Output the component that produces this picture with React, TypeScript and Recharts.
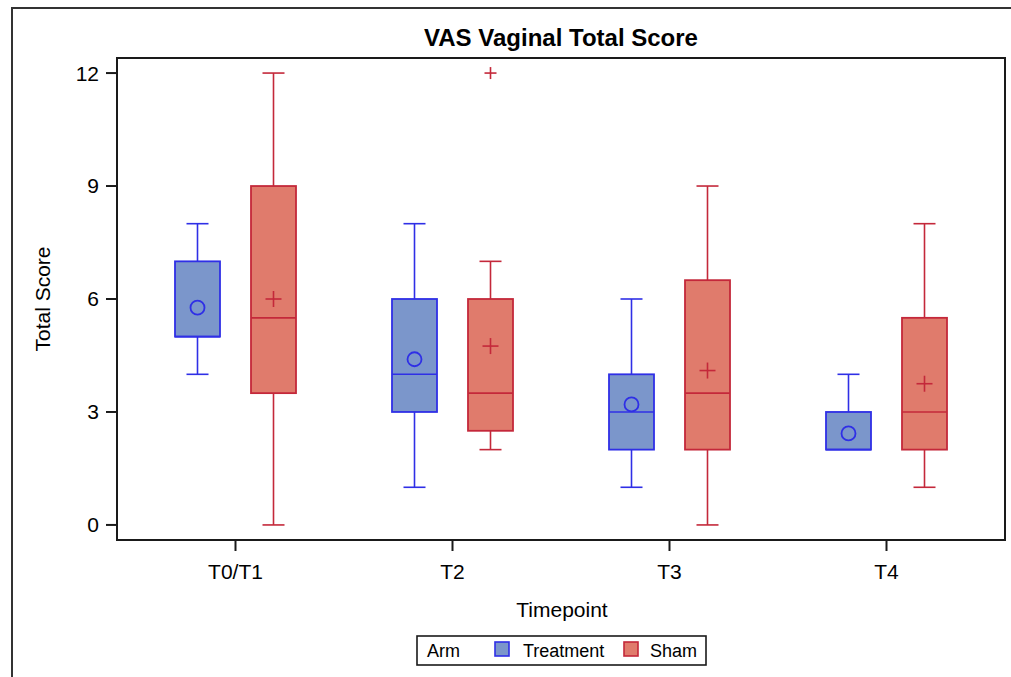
import React from "react"
import { ComposedChart, Bar, XAxis, YAxis } from "recharts"

// box plot summary per timepoint, read from the SAS output
const timepoints = ["T0/T1", "T2", "T3", "T4"]

const treatmentMin = [4, 1, 1, 2]
const treatmentQ1 = [5, 3, 2, 2]
const treatmentMedian = [5, 4, 3, 2]
const treatmentQ3 = [7, 6, 4, 3]
const treatmentMax = [8, 8, 6, 4]
const treatmentMean = [5.77, 4.4, 3.2, 2.43]
const treatmentOutliers: number[][] = [[], [], [], []]

const shamMin = [0, 2, 0, 1]
const shamQ1 = [3.5, 2.5, 2, 2]
const shamMedian = [5.5, 3.5, 3.5, 3]
const shamQ3 = [9, 6, 6.5, 5.5]
const shamMax = [12, 7, 9, 8]
const shamMean = [6, 4.75, 4.1, 3.75]
const shamOutliers: number[][] = [[], [12], [], []]

const yTicks = [0, 3, 6, 9, 12]

const FONT = "'Liberation Sans', Arial, Helvetica, sans-serif"
const AXIS = "#1a1a1a"

const colors = {
  treatment: { fill: "#7b96cb", stroke: "#2f2fe6" },
  sham: { fill: "#e07b6c", stroke: "#c4283a" },
}

type Stats = { min: number; q1: number; median: number; q3: number; max: number; mean: number; outliers: number[] }

const data = timepoints.map((t, i) => {
  const treatment: Stats = {
    min: treatmentMin[i],
    q1: treatmentQ1[i],
    median: treatmentMedian[i],
    q3: treatmentQ3[i],
    max: treatmentMax[i],
    mean: treatmentMean[i],
    outliers: treatmentOutliers[i],
  }
  const sham: Stats = {
    min: shamMin[i],
    q1: shamQ1[i],
    median: shamMedian[i],
    q3: shamQ3[i],
    max: shamMax[i],
    mean: shamMean[i],
    outliers: shamOutliers[i],
  }
  return {
    timepoint: t,
    treatment,
    sham,
    treatmentRange: [treatment.min, treatment.max],
    shamRange: [sham.min, sham.max],
  }
})

function makeBoxShape(series: "treatment" | "sham") {
  const c = colors[series]
  return (props: any) => {
    const { x, y, width, height, payload } = props
    const s: Stats = payload[series]
    const top = Math.min(y, y + height)
    const bottom = Math.max(y, y + height)
    const h = bottom - top
    // linear mapping taken from the bar's own geometry (min..max)
    const py = (v: number) => bottom - ((v - s.min) * h) / (s.max - s.min)
    const cx = x + width / 2
    const cap = 11
    const plus = (px: number, py0: number, r: number, key: string) => (
      <g key={key}>
        <line x1={px - r} x2={px + r} y1={py0} y2={py0} stroke={c.stroke} strokeWidth={1.6} />
        <line x1={px} x2={px} y1={py0 - r} y2={py0 + r} stroke={c.stroke} strokeWidth={1.6} />
      </g>
    )
    return (
      <g>
        {s.max > s.q3 && (
          <>
            <line x1={cx} x2={cx} y1={py(s.max)} y2={py(s.q3)} stroke={c.stroke} strokeWidth={1.6} />
            <line x1={cx - cap} x2={cx + cap} y1={py(s.max)} y2={py(s.max)} stroke={c.stroke} strokeWidth={1.6} />
          </>
        )}
        {s.min < s.q1 && (
          <>
            <line x1={cx} x2={cx} y1={py(s.q1)} y2={py(s.min)} stroke={c.stroke} strokeWidth={1.6} />
            <line x1={cx - cap} x2={cx + cap} y1={py(s.min)} y2={py(s.min)} stroke={c.stroke} strokeWidth={1.6} />
          </>
        )}
        <rect
          x={x}
          y={py(s.q3)}
          width={width}
          height={py(s.q1) - py(s.q3)}
          fill={c.fill}
          stroke={c.stroke}
          strokeWidth={1.8}
        />
        <line x1={x} x2={x + width} y1={py(s.median)} y2={py(s.median)} stroke={c.stroke} strokeWidth={1.6} />
        {series === "treatment" ? (
          <circle cx={cx} cy={py(s.mean)} r={7} fill="none" stroke={c.stroke} strokeWidth={1.8} />
        ) : (
          plus(cx, py(s.mean), 8, "mean")
        )}
        {s.outliers.map((o, k) => plus(cx, py(o), 6, "o" + k))}
      </g>
    )
  }
}

function Overlay() {
  return (
    <svg
      width={1011}
      height={677}
      style={{ position: "absolute", left: 0, top: 0, pointerEvents: "none" }}
      fontFamily={FONT}
    >
      <rect x={12} y={8} width={1200} height={1000} fill="none" stroke="#333" strokeWidth={2} />
      <rect x={117} y={58} width={888} height={482} fill="none" stroke={AXIS} strokeWidth={2} />
      <text x={561} y={46} textAnchor="middle" fontSize={24} fontWeight="bold" fill="#000">
        VAS Vaginal Total Score
      </text>
      <text x={50} y={299} transform="rotate(-90 50 299)" textAnchor="middle" fontSize={21} fill="#000">
        Total Score
      </text>
      <text x={562} y={617} textAnchor="middle" fontSize={21} fill="#000">
        Timepoint
      </text>
      <rect x={417} y={636} width={289} height={29} fill="#fff" stroke={AXIS} strokeWidth={1.6} />
      <text x={427} y={657} fontSize={18} fill="#000">Arm</text>
      <rect x={495} y={642} width={14} height={14} fill={colors.treatment.fill} stroke={colors.treatment.stroke} strokeWidth={1.6} />
      <text x={523} y={657} fontSize={18} fill="#000">Treatment</text>
      <rect x={624} y={642} width={14} height={14} fill={colors.sham.fill} stroke={colors.sham.stroke} strokeWidth={1.6} />
      <text x={650} y={657} fontSize={18} fill="#000">Sham</text>
    </svg>
  )
}

export default function App() {
  return (
    <div style={{ position: "absolute", left: 0, top: 0, width: 1011, height: 677, overflow: "hidden", background: "#fff" }}>
      <ComposedChart
        width={1011}
        height={677}
        data={data}
        margin={{ top: 58, right: 6, bottom: 107, left: 57 }}
        barSize={45}
        barGap={31}
      >
        <XAxis
          dataKey="timepoint"
          height={30}
          padding={{ left: 10, right: 10 }}
          stroke={AXIS}
          strokeWidth={2}
          tickSize={11}
          tickMargin={13}
          tick={{ fill: "#000", fontSize: 21, fontFamily: FONT }}
        />
        <YAxis
          type="number"
          width={60}
          domain={[-0.4, 12.4]}
          ticks={yTicks}
          interval={0}
          stroke={AXIS}
          strokeWidth={2}
          tickSize={11}
          tickMargin={7}
          tick={{ fill: "#000", fontSize: 21, fontFamily: FONT }}
        />
        <Bar dataKey="treatmentRange" shape={makeBoxShape("treatment")} isAnimationActive={false} />
        <Bar dataKey="shamRange" shape={makeBoxShape("sham")} isAnimationActive={false} />
      </ComposedChart>
      <Overlay />
    </div>
  )
}
